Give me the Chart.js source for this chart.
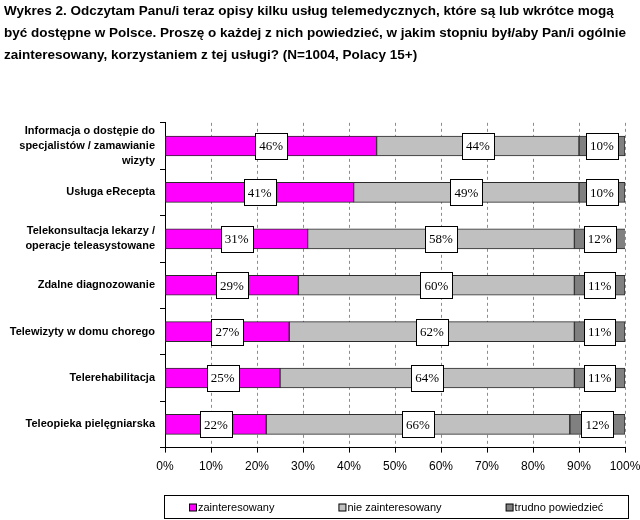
<!DOCTYPE html>
<html>
<head>
<meta charset="utf-8">
<script src="https://cdn.jsdelivr.net/npm/chart.js@4/dist/chart.umd.min.js"></script>
<style>
  html, body { margin: 0; padding: 0; background: #fff; }
</style>
</head>
<body>
<canvas id="barChart" width="640" height="520"></canvas>
<script>
// title and data
const titleLines = [
  'Wykres 2. Odczytam Panu/i teraz opisy kilku usług telemedycznych, które są lub wkrótce mogą',
  'być dostępne w Polsce. Proszę o każdej z nich powiedzieć, w jakim stopniu był/aby Pan/i ogólnie',
  'zainteresowany, korzystaniem z tej usługi? (N=1004, Polacy 15+)'
];

const categories = [
  ['Informacja o dostępie do', 'specjalistów / zamawianie', 'wizyty'],
  'Usługa eRecepta',
  ['Telekonsultacja lekarzy /', 'operacje teleasystowane'],
  'Zdalne diagnozowanie',
  'Telewizyty w domu chorego',
  'Telerehabilitacja',
  'Teleopieka pielęgniarska'
];

const seriesNames = ['zainteresowany', 'nie zainteresowany', 'trudno powiedzieć'];
const zainteresowany = [46, 41, 31, 29, 27, 25, 22];
const nieZainteresowany = [44, 49, 58, 60, 62, 64, 66];
const trudnoPowiedziec = [10, 10, 12, 11, 11, 11, 12];
const xTickValues = [0, 10, 20, 30, 40, 50, 60, 70, 80, 90, 100];

const seriesColors = ['#ff00ff', '#c0c0c0', '#808080'];
const allSeries = [zainteresowany, nieZainteresowany, trudnoPowiedziec];

// white boxes with the percentages, centered on each segment
const boxLabels = {
  id: 'boxLabels',
  afterDatasetsDraw(chart) {
    const ctx = chart.ctx;
    const area = chart.chartArea;
    ctx.save();
    ctx.font = '13px "Liberation Serif"';
    ctx.textAlign = 'center';
    ctx.textBaseline = 'middle';
    chart.data.datasets.forEach((ds, i) => {
      chart.getDatasetMeta(i).data.forEach((bar, j) => {
        const text = ds.data[j] + '%';
        const end = Math.min(bar.x, area.right);
        const cx = (end + bar.base) / 2;
        const cy = bar.y;
        const w = Math.round(ctx.measureText(text).width + 8);
        const h = 26;
        const x0 = Math.round(cx - w / 2) + 0.5;
        const y0 = Math.round(cy - h / 2) + 0.5;
        ctx.fillStyle = '#ffffff';
        ctx.fillRect(x0, y0, w, h);
        ctx.strokeStyle = '#000000';
        ctx.lineWidth = 1;
        ctx.strokeRect(x0, y0, w, h);
        ctx.fillStyle = '#000000';
        ctx.fillText(text, cx, cy + 1);
      });
    });
    ctx.restore();
  }
};

// framed legend under the x axis
const legendBox = {
  id: 'legendBox',
  afterDraw(chart) {
    const ctx = chart.ctx;
    const area = chart.chartArea;
    const left = area.left - 1;
    const right = area.right + 3;
    const top = chart.scales.x.bottom + 14;
    const bottom = top + 23;
    ctx.save();
    ctx.strokeStyle = '#000000';
    ctx.lineWidth = 1;
    ctx.strokeRect(Math.round(left) + 0.5, Math.round(top) + 0.5, Math.round(right - left), Math.round(bottom - top));

    ctx.font = '11px "Liberation Sans"';
    ctx.textBaseline = 'middle';
    ctx.textAlign = 'left';
    const marker = 7, gap = 2, between = 64;
    const widths = chart.data.datasets.map(ds => marker + gap + ctx.measureText(ds.label).width);
    const total = widths.reduce((a, b) => a + b, 0) + between * (widths.length - 1);
    let x = Math.round((left + right) / 2 - total / 2);
    const cy = Math.round((top + bottom) / 2) + 0.5;
    chart.data.datasets.forEach((ds, i) => {
      ctx.fillStyle = ds.backgroundColor;
      ctx.fillRect(x + 0.5, cy - 3.5, marker, marker);
      ctx.strokeStyle = '#000000';
      ctx.strokeRect(x + 0.5, cy - 3.5, marker, marker);
      ctx.fillStyle = '#000000';
      ctx.fillText(ds.label, x + marker + gap, cy);
      x += widths[i] + between;
    });
    ctx.restore();
  }
};

const ctx = document.getElementById('barChart').getContext('2d');
const myChart = new Chart(ctx, {
  type: 'bar',
  data: {
    labels: categories,
    datasets: seriesNames.map((name, i) => ({
      label: name,
      data: allSeries[i],
      backgroundColor: seriesColors[i],
      borderColor: '#2a2a2a',
      borderWidth: 1,
      borderSkipped: false,
      barThickness: 20
    }))
  },
  options: {
    indexAxis: 'y',
    responsive: false,
    animation: false,
    layout: { padding: { left: 4, right: 0, top: 0, bottom: 39 } },
    scales: {
      x: {
        stacked: true,
        min: 0,
        max: 100,
        afterBuildTicks: scale => { scale.ticks = xTickValues.map(v => ({ value: v })); },
        afterFit: scale => { scale.paddingRight = 15; },
        ticks: {
          callback: v => v + '%',
          color: '#000',
          padding: 7,
          maxRotation: 0,
          font: { family: '"Liberation Sans"', size: 12 }
        },
        grid: {
          color: '#8c8c8c',
          tickColor: '#000',
          tickLength: 5,
          tickBorderDash: []
        },
        border: { display: true, color: '#000', width: 1, dash: [3, 3] }
      },
      y: {
        stacked: true,
        afterFit: scale => { scale.width = 161; },
        ticks: {
          autoSkip: false,
          color: '#000',
          padding: 5,
          font: { family: '"Liberation Sans"', size: 11, weight: 'bold', lineHeight: 1.35 }
        },
        grid: {
          offset: true,
          drawOnChartArea: false,
          tickColor: '#000',
          tickLength: 5
        },
        border: { display: true, color: '#000', width: 1 }
      }
    },
    plugins: {
      legend: { display: false },
      tooltip: { enabled: false },
      title: {
        display: true,
        text: titleLines,
        align: 'start',
        color: '#000',
        font: { family: '"Liberation Sans"', size: 13.5, weight: 'bold', lineHeight: 1.65 },
        padding: { top: 0, bottom: 56 }
      }
    }
  },
  plugins: [boxLabels, legendBox]
});
</script>
</body>
</html>
